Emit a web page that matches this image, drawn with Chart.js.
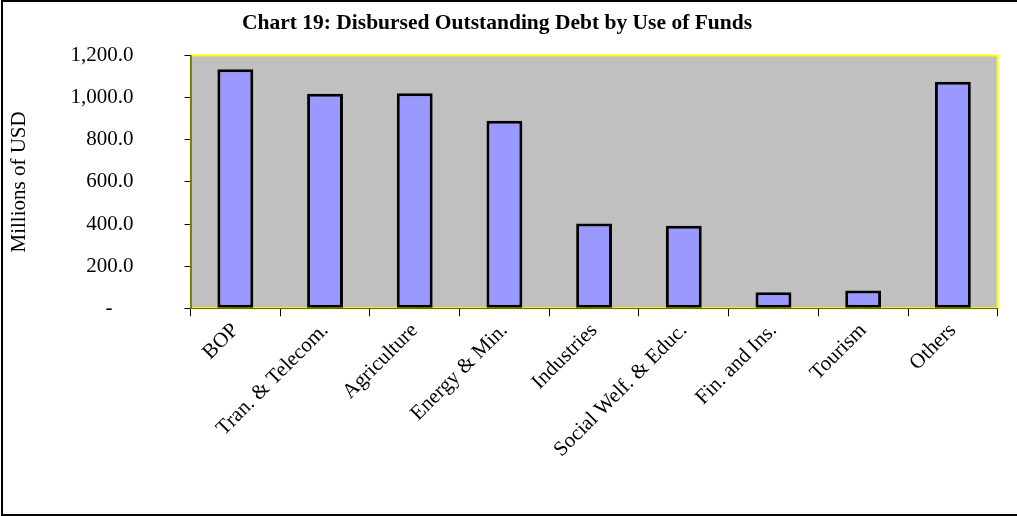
<!DOCTYPE html>
<html>
<head>
<meta charset="utf-8">
<script src="https://cdn.jsdelivr.net/npm/chart.js@4.4.0/dist/chart.umd.min.js"></script>
<style>
  html, body { margin: 0; padding: 0; background: #ffffff; }
  #wrap { width: 1017px; height: 516px; position: relative; }
</style>
</head>
<body>
<div id="wrap"><canvas id="debtChart" width="1017" height="516"></canvas></div>
<script>
// Outstanding debt by use of funds (millions of USD)
const categories = ['BOP', 'Tran. & Telecom.', 'Agriculture', 'Energy & Min.', 'Industries',
  'Social Welf. & Educ.', 'Fin. and Ins.', 'Tourism', 'Others'];
const debtValues = [1135, 1018, 1021, 890, 403, 392, 76, 84, 1075];
const yTickValues = [0, 200, 400, 600, 800, 1000, 1200];
const chartTitle = 'Chart 19: Disbursed Outstanding Debt by Use of Funds';
const yAxisTitle = 'Millions of USD';

const SERIF = '"Liberation Serif", "Times New Roman", serif';

// grey plot area with a yellow frame
const plotFrame = {
  id: 'plotFrame',
  beforeDraw(chart) {
    const { ctx, chartArea: a } = chart;
    ctx.save();
    ctx.fillStyle = '#C0C0C0';
    ctx.fillRect(a.left, a.top, a.right - a.left, a.bottom - a.top);
    ctx.strokeStyle = '#FFFF00';
    ctx.lineWidth = 2;
    ctx.strokeRect(a.left, a.top, a.right - a.left, a.bottom - a.top);
    ctx.restore();
  }
};

// heading and outer border of the whole figure
const heading = {
  id: 'heading',
  afterDraw(chart) {
    const { ctx } = chart;
    ctx.save();
    ctx.fillStyle = '#000';
    ctx.font = 'bold 21.5px ' + SERIF;
    ctx.textAlign = 'center';
    ctx.textBaseline = 'alphabetic';
    ctx.fillText(chartTitle, 497, 28.5);
    ctx.strokeStyle = '#000';
    ctx.lineWidth = 2;
    ctx.beginPath();
    ctx.moveTo(1017, 1);
    ctx.lineTo(2, 1);
    ctx.lineTo(2, 515);
    ctx.lineTo(1017, 515);
    ctx.stroke();
    ctx.restore();
  }
};

new Chart(document.getElementById('debtChart'), {
  type: 'bar',
  data: {
    labels: categories,
    datasets: [{
      data: debtValues,
      backgroundColor: '#9999FF',
      borderColor: '#000000',
      borderWidth: 3,
      borderSkipped: false,
      barPercentage: 0.4,
      categoryPercentage: 1.0
    }]
  },
  options: {
    responsive: false,
    animation: false,
    events: [],
    layout: { padding: { top: 55.5, right: 19.3, left: 0, bottom: 0 } },
    plugins: {
      legend: { display: false },
      title: { display: false },
      tooltip: { enabled: false }
    },
    scales: {
      x: {
        grid: { offset: true, drawOnChartArea: false, drawTicks: true, tickLength: 8, color: '#000', lineWidth: 1 },
        border: { display: true, color: '#6B6B00', width: 1 },
        ticks: {
          autoSkip: false, minRotation: 45, maxRotation: 45, padding: 2,
          color: '#000', font: { family: SERIF, size: 21 }
        },
        afterFit(scale) { scale.height = 207.7; }
      },
      y: {
        min: 0, max: 1200,
        afterBuildTicks(scale) { scale.ticks = yTickValues.map(v => ({ value: v })); },
        grid: { drawOnChartArea: false, drawTicks: true, tickLength: 6, color: '#000', lineWidth: 1 },
        border: { display: true, color: '#808000', width: 2 },
        ticks: {
          padding: 51, color: '#000', font: { family: SERIF, size: 21 },
          callback: v => v === 0 ? '-\u00a0\u00a0\u00a0\u00a0'
            : v.toLocaleString('en-US', { minimumFractionDigits: 1, maximumFractionDigits: 1 })
        },
        title: {
          display: true, text: yAxisTitle, color: '#000',
          font: { family: SERIF, size: 21 }, padding: { top: 7, bottom: 0 }
        },
        afterFit(scale) {
          scale.width = 190.5;
          // label padding is only horizontal here; keep the plot top/bottom fixed
          scale.paddingTop = 0;
          scale.paddingBottom = 0;
        }
      }
    }
  },
  plugins: [plotFrame, heading]
});
</script>
</body>
</html>
